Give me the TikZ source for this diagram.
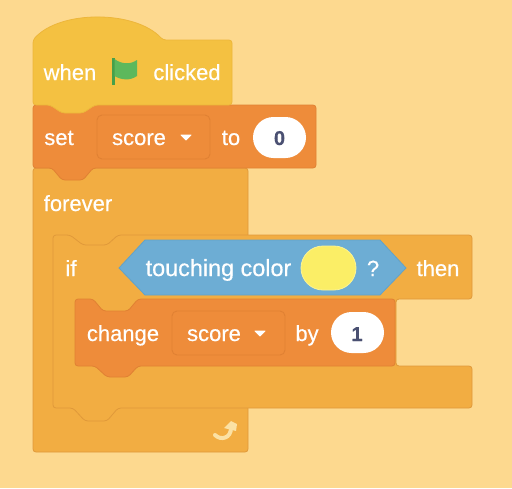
\documentclass[tikz,border=0pt]{standalone}
\usepackage{fontspec}
\setmainfont[FakeBold=0.5]{Liberation Sans}
\definecolor{bgc}{HTML}{FDD98F}
\definecolor{hatc}{HTML}{F4C141}
\definecolor{hate}{HTML}{EDB63B}
\definecolor{setc}{HTML}{EE8C3A}
\definecolor{sete}{HTML}{E08133}
\definecolor{forc}{HTML}{F2AD42}
\definecolor{fore}{HTML}{E0993A}
\definecolor{bluec}{HTML}{6DADD4}
\definecolor{bluee}{HTML}{62A2C8}
\definecolor{yelc}{HTML}{FBEE66}
\definecolor{numc}{HTML}{4A5072}
\definecolor{flagc}{HTML}{5DB85C}
\definecolor{polec}{HTML}{47A04A}
\definecolor{loopc}{HTML}{FBE1A4}
\tikzset{
  x=1pt,y=-1pt,
  hatblock/.style={fill=hatc,draw=hate,line width=.8pt,rounded corners=3pt},
  setblock/.style={fill=setc,draw=sete,line width=.8pt,rounded corners=3pt},
  ctrlblock/.style={fill=forc,draw=fore,line width=.8pt,rounded corners=3pt},
  dropbox/.style={fill=setc,draw=sete,line width=.9pt,rounded corners=5pt},
  wlabel/.style={anchor=base,inner sep=0pt,text=white,font=\fontsize{22}{24}\selectfont},
  numlabel/.style={anchor=base,inner sep=0pt,text=numc,font=\fontsize{20}{22}\selectfont\bfseries},
  pill/.style={fill=white,rounded corners=20.5pt},
  caret/.style={fill=white,draw=white,line width=1pt,line join=round},
}
\begin{document}
\begin{tikzpicture}
\useasboundingbox (0,0) rectangle (512,488);
\fill[bgc] (0,0) rectangle (512,488);
% forever
\draw[ctrlblock] (33,168) -- (248,168) -- (248,452) -- (33,452) -- cycle;
% if
\draw[ctrlblock] (53,235) -- (70,235) -- (83,245) -- (107,245) -- (118,235) -- (472,235) -- (472,299)
  -- (396,299) -- (396,366) -- (472,366) -- (472,408) -- (118,408) -- (107,421) -- (85,421) -- (73,408) -- (53,408) -- cycle;
% set
\draw[setblock] (33,105) -- (316,105) -- (316,168) -- (93,168) -- (83,180) -- (62,180) -- (52,168) -- (33,168) -- cycle;
% hat
\draw[hatblock] (33,105) -- (33,40) .. controls (60,10) and (135,10) .. (163,40) -- (232,40) -- (232,105)
  -- (95,105) -- (83,113) -- (62,113) -- (50,105) -- cycle;
% change
\draw[setblock] (75,299) -- (93,299) -- (103,311) -- (128,311) -- (138,299) -- (395,299) -- (395,366)
  -- (138,366) -- (128,377) -- (107,377) -- (95,366) -- (75,366) -- cycle;
% set contents
\node[wlabel] (whenT) at (70,80) {when};
\fill[polec] (112,58) rectangle (114.5,85);
\fill[flagc] (114.5,59) .. controls (121,64) and (130,65) .. (137,60) -- (137,76) .. controls (130,81) and (121,80) .. (114.5,76) -- cycle;
\node[wlabel] (clickedT) at (187,80) {clicked};
\node[wlabel] (setT) at (59,145) {set};
\draw[dropbox] (97,115) rectangle (210,159);
\node[wlabel] (scoreA) at (139,145) {score};
\draw[caret] (181,135) -- (191,135) -- (186,140) -- cycle;
\node[wlabel] (toT) at (231,145) {to};
\fill[pill] (253,117) rectangle (306,158);
\node[numlabel] (zeroT) at (279.5,145) {0};
\node[wlabel] (foreverT) at (78,211) {forever};
\node[wlabel] (ifT) at (71,276) {if};
% hexagon
\draw[fill=bluec,draw=bluee,line width=.8pt] (119,268) -- (145,240) -- (380,240) -- (406,268) -- (380,295) -- (145,295) -- cycle;
\node[wlabel,font=\fontsize{23.4}{25}\selectfont] (touchT) at (218.5,276) {touching color};
\fill[yelc,draw=yelc!70!white,line width=.8pt,rounded corners=22pt] (301,246) rectangle (356,290);
\node[wlabel] (qT) at (373,276) {?};
\node[wlabel] (thenT) at (438,276) {then};
% change contents
\node[wlabel] (changeT) at (123,341) {change};
\draw[dropbox] (172,311) rectangle (285,355);
\node[wlabel] (scoreB) at (214,341) {score};
\draw[caret] (255,331) -- (265,331) -- (260,336) -- cycle;
\node[wlabel] (byT) at (307,341) {by};
\fill[pill] (331,312) rectangle (384,353);
\node[numlabel] (oneT) at (357,341) {1};
% loop arrow
\draw[loopc,line width=4pt,line cap=round] (215,435) .. controls (221,441) and (231,438) .. (231,428);
\fill[loopc] (224,428) -- (231,421) -- (237,424) -- (236,431) -- cycle;
\end{tikzpicture}
\end{document}
